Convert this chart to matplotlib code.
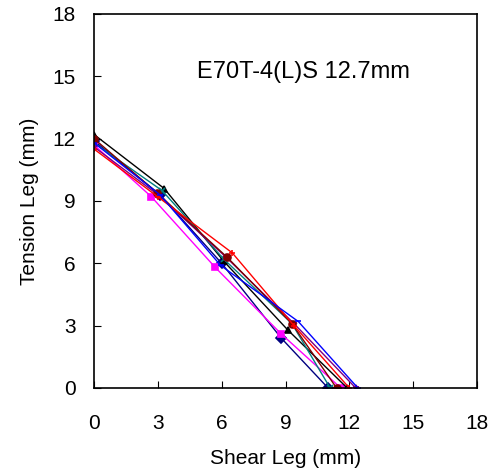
import matplotlib
matplotlib.use("Agg")
import matplotlib.pyplot as plt

plt.rcParams['font.family'] = ['Liberation Sans', 'DejaVu Sans']

# shear leg (x) and tension leg (y), mm, one list per specimen
shear_navy = [0.0, 3.1, 6.0, 8.8, 11.0]
tension_navy = [11.9, 9.3, 6.0, 2.4, 0.0]
shear_magenta = [0.0, 2.7, 5.7, 8.8, 11.6]
tension_magenta = [11.7, 9.2, 5.8, 2.6, 0.0]
shear_black = [0.0, 3.3, 6.1, 9.1, 11.9]
tension_black = [12.2, 9.6, 6.1, 2.8, 0.0]
shear_teal = [0.0, 3.2, 6.1, 9.3, 11.1]
tension_teal = [11.8, 9.5, 6.2, 3.1, 0.0]
shear_purple = [0.0, 3.0, 6.2, 9.4, 12.3]
tension_purple = [11.6, 9.3, 6.3, 3.1, 0.0]
shear_darkred = [0.0, 2.95, 6.25, 9.3, 11.4]
tension_darkred = [12.0, 9.4, 6.3, 3.1, 0.0]
shear_red = [0.0, 3.0, 6.5, 9.4, 12.0]
tension_red = [11.5, 9.2, 6.5, 3.0, 0.0]
shear_blue = [0.0, 3.1, 5.95, 9.6, 12.4]
tension_blue = [11.8, 9.3, 5.9, 3.2, 0.0]

series = [
    (shear_navy, tension_navy, '#000080', 'D'),
    (shear_magenta, tension_magenta, '#FF00FF', 's'),
    (shear_black, tension_black, '#000000', '^'),
    (shear_teal, tension_teal, '#008080', 'x'),
    (shear_purple, tension_purple, '#800080', '*'),
    (shear_darkred, tension_darkred, '#800000', 'o'),
    (shear_red, tension_red, '#FF0000', '+'),
    (shear_blue, tension_blue, '#0000FF', '_'),
]

fig = plt.figure(figsize=(4.99, 4.76), dpi=100)
ax = fig.add_axes([0.1884, 0.1849, 0.7675, 0.7857])

for x, y, c, m in series:
    ax.plot(x, y, color=c, marker=m, markersize=5, linewidth=1,
            markeredgewidth=1.2)

ax.set_xlim(0, 18)
ax.set_ylim(0, 18)
ticks = [0, 3, 6, 9, 12, 15, 18]
ax.set_xticks(ticks)
ax.set_yticks(ticks)
ax.tick_params(direction='in', labelsize=15, length=5)
ax.tick_params(axis='x', pad=19)
ax.tick_params(axis='y', pad=13)
for s in ax.spines.values():
    s.set_linewidth(1.2)
ax.set_xlabel('Shear Leg (mm)', fontsize=15, labelpad=11)
ax.set_ylabel('Tension Leg (mm)', fontsize=15, labelpad=10)
ax.text(4.86, 15.2, 'E70T-4(L)S 12.7mm', fontsize=17, va='center')

fig.savefig('out.png', dpi=100)
